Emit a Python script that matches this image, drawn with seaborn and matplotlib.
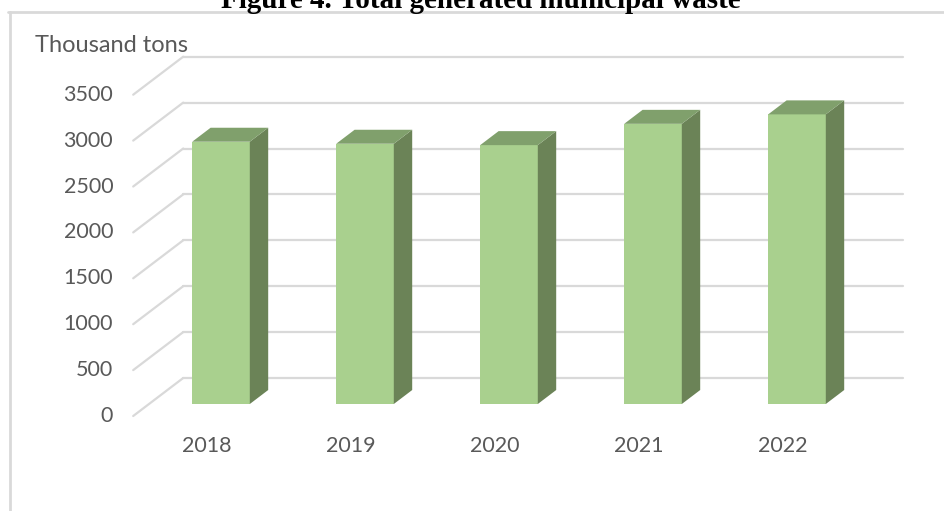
import matplotlib
matplotlib.use("Agg")
import matplotlib.pyplot as plt
import pandas as pd
import seaborn as sns
from matplotlib.lines import Line2D
from matplotlib.patches import Polygon

# ---- data ----
years = ["2018", "2019", "2020", "2021", "2022"]
waste = [2857, 2835, 2820, 3052, 3155]
y_ticks = [0, 500, 1000, 1500, 2000, 2500, 3000, 3500]
title = "Figure 4. Total generated municipal waste"
unit_label = "Thousand tons"

# ---- style ----
FRONT = "#A9D08E"
SIDE = "#6B8357"
TOP = "#80A06C"
GRID = "#D9D9D9"
TEXT = "#595959"

W, H, DPI = 945, 511, 100
sns.set_theme(style="white")
plt.rcParams["font.family"] = ["Lato", "DejaVu Sans"]

fig = plt.figure(figsize=(W / DPI, H / DPI), dpi=DPI)
ax = fig.add_axes([149 / W, (H - 404) / H, 720 / W, 321.3 / H])

df = pd.DataFrame({"year": years, "waste": waste})
sns.barplot(data=df, x="year", y="waste", order=years, color=FRONT,
            saturation=1, width=0.4, ax=ax, zorder=3, linewidth=0)
ax.set_xlim(-0.5, 4.5)
ax.set_ylim(0, 3500)
ax.axis("off")

# oblique projection: pixel shift from the front edge (d=0) to the back wall (d=1)
DEPTH_PX = (50, 38)
DX = DEPTH_PX[0] / (ax.bbox.width / 5)
DY = DEPTH_PX[1] / (ax.bbox.height / 3500)
D_BAR0, D_BAR1 = 0.316, 0.684   # bar front and back depth


def proj(x, v, d):
    return (x + (d - D_BAR0) * DX, v + (d - D_BAR0) * DY)


# back-wall gridlines and the slanted side-wall lines
for v in y_ticks:
    (xa, ya), (xb, yb) = proj(-0.5, v, 1), proj(4.5, v, 1)
    ax.plot([xa, xb], [ya, yb], color=GRID, lw=1.6, clip_on=False, zorder=1)
    (xc, yc) = proj(-0.5, v, 0)
    ax.plot([xc, xa], [yc, ya], color=GRID, lw=1.6, clip_on=False, zorder=1)

# side and top faces of each bar
for p in list(ax.patches):
    x0 = p.get_x()
    x1 = x0 + p.get_width()
    h = p.get_height()
    side = [proj(x1, 0, D_BAR0), proj(x1, h, D_BAR0),
            proj(x1, h, D_BAR1), proj(x1, 0, D_BAR1)]
    top = [proj(x0, h, D_BAR0), proj(x1, h, D_BAR0),
           proj(x1, h, D_BAR1), proj(x0, h, D_BAR1)]
    ax.add_patch(Polygon(side, closed=True, facecolor=SIDE, edgecolor="none",
                         clip_on=False, zorder=3))
    ax.add_patch(Polygon(top, closed=True, facecolor=TOP, edgecolor="none",
                         clip_on=False, zorder=3))

# value axis labels on the front edge
for v in y_ticks:
    ax.annotate(str(v), xy=proj(-0.5, v, 0), xytext=(-20, 0),
                textcoords="offset pixels", ha="right", va="center",
                color=TEXT, fontsize=15.5, annotation_clip=False)

# category labels below the floor
for i, yr in enumerate(years):
    ax.annotate(yr, xy=proj(i, 0, 0), xytext=(2, -30),
                textcoords="offset pixels", ha="center", va="center",
                color=TEXT, fontsize=15.5, annotation_clip=False)

fig.text(35 / W, 1 - 45 / H, unit_label, ha="left", va="center",
         fontsize=17, color=TEXT)

fig.text(481 / W, 1 - 8 / H, title, ha="center", va="baseline",
         family=["Liberation Serif", "DejaVu Serif"], weight="bold",
         fontsize=21, color="black")

# chart-area frame (top and left edges)
fig.add_artist(Line2D([8 / W, 1], [1 - 12 / H, 1 - 12 / H], color=GRID, lw=2))
fig.add_artist(Line2D([10 / W, 10 / W], [0, 1 - 12 / H], color=GRID, lw=2))

fig.savefig("out.png", dpi=DPI)
